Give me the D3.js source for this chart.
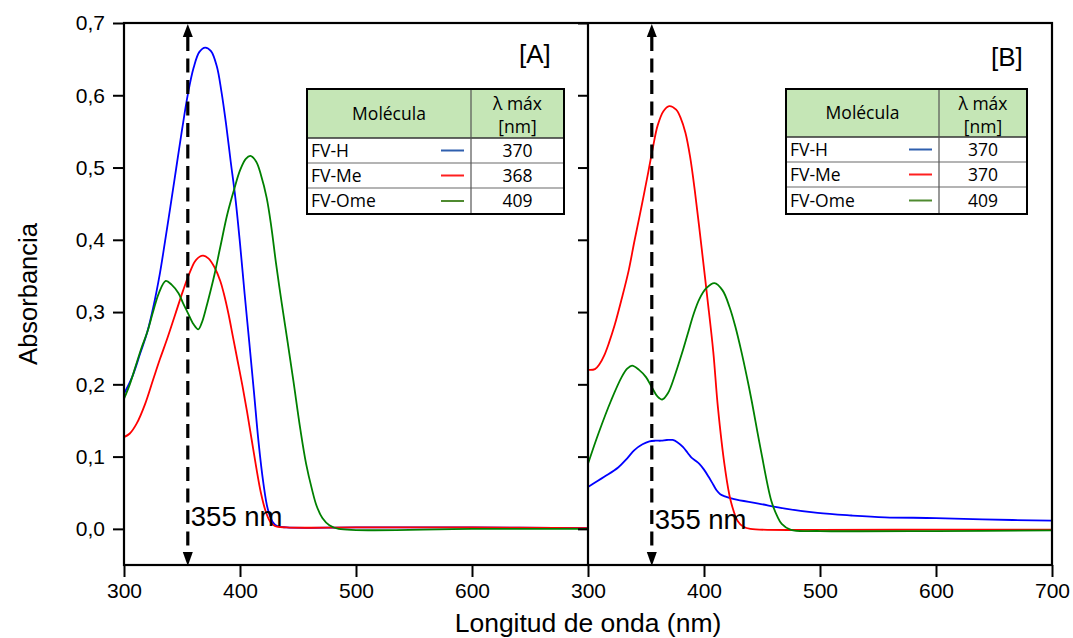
<!DOCTYPE html>
<html>
<head>
<meta charset="utf-8">
<script src="https://cdn.jsdelivr.net/npm/d3@7"></script>
<style>
  body { margin: 0; background: #ffffff; }
  svg { display: block; }
</style>
</head>
<body>
<svg id="chart" width="1073" height="638"></svg>
<script>
// UV-Vis absorption spectra, [wavelength (nm), absorbance]
// Panel A
const specA_H = [[300,0.187],[307,0.21],[314,0.243],[320,0.272],[325,0.305],[331,0.354],[335,0.394],[340,0.446],[345,0.499],[350,0.552],[355,0.601],[360,0.638],[365,0.66],[370,0.666],[375,0.661],[380,0.64],[384,0.605],[388,0.56],[392,0.508],[396,0.458],[400,0.395],[404,0.325],[408,0.258],[412,0.19],[416,0.12],[420,0.065],[424,0.027],[428,0.01],[432,0.004],[440,0.002],[500,0.002],[600,0.002],[700,0.001]];
const specA_Me = [[300,0.127],[305,0.132],[311,0.146],[318,0.172],[325,0.206],[331,0.235],[337,0.262],[344,0.296],[351,0.33],[357,0.356],[362,0.372],[368,0.378],[373,0.374],[378,0.362],[383,0.343],[386,0.326],[390,0.298],[394,0.265],[398,0.232],[402,0.199],[406,0.163],[410,0.124],[414,0.085],[418,0.05],[422,0.025],[426,0.01],[430,0.004],[440,0.002],[500,0.002],[600,0.002],[700,0.001]];
const specA_OMe = [[300,0.18],[305,0.2],[310,0.225],[315,0.25],[320,0.272],[325,0.3],[330,0.326],[336,0.343],[341,0.338],[347,0.326],[351,0.312],[355,0.299],[360,0.283],[364,0.276],[367,0.285],[371,0.307],[375,0.332],[378,0.352],[383,0.39],[389,0.435],[395,0.47],[400,0.496],[405,0.512],[409,0.516],[414,0.508],[418,0.49],[423,0.458],[427,0.418],[431,0.368],[436,0.312],[441,0.259],[446,0.205],[452,0.138],[457,0.09],[462,0.055],[466,0.032],[471,0.015],[477,0.005],[485,0.0],[600,0.0],[700,0.0]];
// Panel B
const specB_H = [[300,0.058],[314,0.072],[326,0.085],[334,0.098],[340,0.109],[347,0.117],[353,0.121],[358,0.122],[363,0.122],[368,0.123],[373,0.123],[377,0.12],[382,0.113],[386,0.105],[389,0.099],[393,0.094],[396,0.09],[400,0.082],[404,0.072],[408,0.061],[411,0.053],[414,0.048],[418,0.045],[426,0.041],[447,0.035],[470,0.028],[498,0.022],[527,0.0185],[556,0.016],[600,0.015],[640,0.013],[700,0.0115]];
const specB_Me = [[300,0.22],[306,0.221],[310,0.228],[314,0.24],[318,0.257],[323,0.282],[329,0.318],[335,0.357],[340,0.398],[346,0.445],[352,0.494],[356,0.528],[360,0.558],[365,0.578],[370,0.585],[376,0.58],[380,0.568],[384,0.548],[388,0.515],[392,0.469],[398,0.388],[403,0.318],[408,0.245],[412,0.168],[418,0.085],[423,0.039],[429,0.011],[434,0.003],[440,0.0],[500,-0.0015],[600,-0.001],[700,-0.001]];
const specB_OMe = [[300,0.09],[309,0.132],[320,0.178],[329,0.21],[334,0.222],[338,0.226],[344,0.22],[350,0.21],[355,0.196],[360,0.183],[364,0.179],[369,0.188],[375,0.213],[381,0.243],[386,0.27],[391,0.297],[396,0.318],[402,0.333],[409,0.34],[416,0.33],[422,0.307],[427,0.28],[432,0.247],[437,0.21],[441,0.178],[449,0.109],[458,0.039],[463,0.018],[467,0.007],[475,-0.0015],[500,-0.003],[600,-0.003],[700,-0.002]];

const yTicks = [0, 0.1, 0.2, 0.3, 0.4, 0.5, 0.6, 0.7];
const xTicksA = [300, 400, 500, 600];
const xTicksB = [300, 400, 500, 600, 700];
const molecules = ["FV-H", "FV-Me", "FV-Ome"];
const lambdaMaxA = [370, 368, 409];
const lambdaMaxB = [370, 370, 409];
const markerNm = 355;
const panelNames = ["[A]", "[B]"];

const curveColors = ["#0000ff", "#ff0000", "#008000"];
const keyColors = ["#2f5fae", "#ff1f1f", "#4f8a30"];

const svg = d3.select("#chart");
const plotTop = 23, plotBottom = 565;
const y = d3.scaleLinear().domain([-0.05, 0.7]).range([plotBottom, plotTop]);
const xA = d3.scaleLinear().domain([300, 700]).range([124, 588]);
const xB = d3.scaleLinear().domain([300, 700]).range([588, 1052]);

svg.append("rect").attr("width", 1073).attr("height", 638).attr("fill", "#ffffff");

const defs = svg.append("defs");
[["clipA", xA], ["clipB", xB]].forEach(([id, sx]) => {
  defs.append("clipPath").attr("id", id).append("rect")
    .attr("x", sx.range()[0]).attr("y", plotTop)
    .attr("width", sx.range()[1] - sx.range()[0]).attr("height", plotBottom - plotTop);
});

const tickFont = "'Liberation Sans', Arial, sans-serif";
const tableFont = "'Open Sans', sans-serif";
const tableSize = 17.5;
const commaFmt = d => d3.format(".1f")(d).replace(".", ",");

function drawPanel(sx, clipId, series, lambdaMax, name, table) {
  const g = svg.append("g");
  const line = d3.line().x(d => sx(d[0])).y(d => y(d[1])).curve(d3.curveCatmullRom.alpha(0.5));
  const plot = g.append("g").attr("clip-path", `url(#${clipId})`);
  series.forEach((s, i) => {
    plot.append("path").datum(s).attr("d", line)
      .attr("fill", "none").attr("stroke", curveColors[i])
      .attr("stroke-width", 1.8).attr("stroke-linejoin", "round");
  });

  // 355 nm dashed marker with arrowheads
  const mx = sx(markerNm);
  g.append("line").attr("x1", mx).attr("x2", mx).attr("y1", 37).attr("y2", 552)
    .attr("stroke", "#000").attr("stroke-width", 3.2).attr("stroke-dasharray", "14,7.5");
  g.append("path").attr("d", `M${mx},24 L${mx - 5},37 L${mx + 5},37 Z`).attr("fill", "#000");
  g.append("path").attr("d", `M${mx},566 L${mx - 5},552 L${mx + 5},552 Z`).attr("fill", "#000");

  // panel name
  g.append("text").attr("x", table.nameX).attr("y", table.nameY)
    .attr("font-family", tickFont).attr("font-size", 26).attr("fill", "#000")
    .text(name);

  // key table
  const t = g.append("g").attr("font-family", tableFont).attr("fill", "#000");
  const { left, right, div, tTop, hBot, rows, bot } = table;
  t.append("rect").attr("x", left).attr("y", tTop).attr("width", right - left).attr("height", hBot - tTop)
    .attr("fill", "#c5e6b6");
  t.append("rect").attr("x", left).attr("y", hBot).attr("width", right - left).attr("height", bot - hBot)
    .attr("fill", "#ffffff");
  rows.forEach(ry => {
    t.append("line").attr("x1", left).attr("x2", right).attr("y1", ry).attr("y2", ry)
      .attr("stroke", "#6a6a6a").attr("stroke-width", 1.2);
  });
  t.append("line").attr("x1", left).attr("x2", right).attr("y1", hBot).attr("y2", hBot)
    .attr("stroke", "#333").attr("stroke-width", 1.4);
  t.append("line").attr("x1", div).attr("x2", div).attr("y1", tTop).attr("y2", bot)
    .attr("stroke", "#555").attr("stroke-width", 1.2);
  t.append("rect").attr("x", left).attr("y", tTop).attr("width", right - left).attr("height", bot - tTop)
    .attr("fill", "none").attr("stroke", "#000").attr("stroke-width", 2);

  t.append("text").attr("x", (left + div) / 2).attr("y", (tTop + hBot) / 2 + 6)
    .attr("text-anchor", "middle").attr("font-size", tableSize).text("Molécula");
  const c2 = (div + right) / 2;
  t.append("text").attr("x", c2).attr("y", tTop + 21).attr("text-anchor", "middle")
    .attr("font-size", tableSize).text("λ máx");
  t.append("text").attr("x", c2).attr("y", tTop + 44).attr("text-anchor", "middle")
    .attr("font-size", tableSize).text("[nm]");

  const edges = [hBot].concat(rows).concat([bot]);
  molecules.forEach((m, i) => {
    const cy = (edges[i] + edges[i + 1]) / 2;
    t.append("text").attr("x", left + 4).attr("y", cy + 6).attr("font-size", tableSize).text(m);
    t.append("line").attr("x1", div - 30).attr("x2", div - 7).attr("y1", cy).attr("y2", cy)
      .attr("stroke", keyColors[i]).attr("stroke-width", 2);
    t.append("text").attr("x", c2).attr("y", cy + 6).attr("text-anchor", "middle")
      .attr("font-size", tableSize).text(lambdaMax[i]);
  });

  // marker label drawn above the curves
  g.append("text").attr("x", mx + 3).attr("y", table.markY)
    .attr("font-family", tickFont).attr("font-size", 27.5).attr("fill", "#000")
    .text(markerNm + " nm");
}

drawPanel(xA, "clipA", [specA_H, specA_Me, specA_OMe], lambdaMaxA, panelNames[0],
  { left: 307, right: 564, div: 471, tTop: 89, hBot: 138, rows: [163, 188], bot: 214,
    nameX: 519, nameY: 63, markY: 526 });
drawPanel(xB, "clipB", [specB_H, specB_Me, specB_OMe], lambdaMaxB, panelNames[1],
  { left: 786, right: 1027, div: 939, tTop: 89, hBot: 137, rows: [162, 187], bot: 214,
    nameX: 991, nameY: 66, markY: 529 });

// axes
function styleAxis(sel) {
  sel.select(".domain").remove();
  sel.selectAll(".tick line").attr("stroke", "#000").attr("stroke-width", 2);
  sel.selectAll(".tick text").attr("font-family", tickFont).attr("font-size", 21).attr("fill", "#000");
}
svg.append("g").attr("transform", "translate(124,0)")
  .call(d3.axisLeft(y).tickValues(yTicks).tickSize(11).tickPadding(8).tickFormat(commaFmt))
  .call(styleAxis);
svg.append("g").attr("transform", "translate(588,0)")
  .call(d3.axisLeft(y).tickValues(yTicks).tickSize(10).tickFormat(""))
  .call(styleAxis);
svg.append("g").attr("transform", `translate(0,${plotBottom})`)
  .call(d3.axisBottom(xA).tickValues(xTicksA).tickSize(12).tickPadding(6).tickFormat(d3.format("d")))
  .call(styleAxis);
svg.append("g").attr("transform", `translate(0,${plotBottom})`)
  .call(d3.axisBottom(xB).tickValues(xTicksB).tickSize(12).tickPadding(6).tickFormat(d3.format("d")))
  .call(styleAxis);

// frame
svg.append("rect").attr("x", 124).attr("y", plotTop).attr("width", 1052 - 124).attr("height", plotBottom - plotTop)
  .attr("fill", "none").attr("stroke", "#000").attr("stroke-width", 2.2);
svg.append("line").attr("x1", 588).attr("x2", 588).attr("y1", plotTop).attr("y2", plotBottom)
  .attr("stroke", "#000").attr("stroke-width", 2.2);

// axis titles
svg.append("text").attr("transform", "translate(37,294) rotate(-90)")
  .attr("text-anchor", "middle").attr("font-family", tickFont).attr("font-size", 25.5)
  .attr("fill", "#000").text("Absorbancia");
svg.append("text").attr("x", 588).attr("y", 632)
  .attr("text-anchor", "middle").attr("font-family", tickFont).attr("font-size", 26.5)
  .attr("fill", "#000").text("Longitud de onda (nm)");
</script>
</body>
</html>
